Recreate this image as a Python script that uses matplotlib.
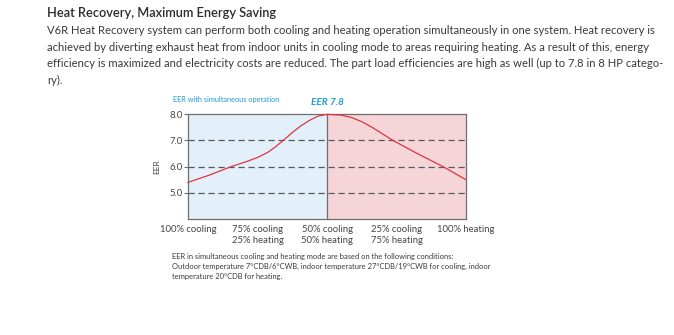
import matplotlib
matplotlib.use('Agg')
import matplotlib.pyplot as plt

plt.rcParams['font.family'] = ['Lato', 'DejaVu Sans']

# mix of cooling / heating load along the x axis
xpos = [0, 1, 2, 3, 4]
xlabels = ['100% cooling', '75% cooling\n25% heating', '50% cooling\n50% heating',
           '25% cooling\n75% heating', '100% heating']

# EER curve read along the operating range
curve_x = [0, 0.3, 0.62, 0.85, 1.0, 1.15, 1.25, 1.37, 1.5, 1.62, 1.75, 1.87, 2.0,
           2.2, 2.35, 2.5, 2.65, 2.8, 2.95, 3.3, 3.67, 4.0]
curve_y = [5.40, 5.67, 6.0, 6.2, 6.35, 6.55, 6.74, 7.0, 7.3, 7.55, 7.77, 7.93, 8.0,
           7.97, 7.88, 7.72, 7.5, 7.25, 7.0, 6.5, 6.0, 5.5]

yticks = [5.0, 6.0, 7.0, 8.0]
peak_label = 'EER 7.8'

heading = 'Heat Recovery, Maximum Energy Saving'
body = ['V6R Heat Recovery system can perform both cooling and heating operation simultaneously in one system. Heat recovery is',
        'achieved by diverting exhaust heat from indoor units in cooling mode to areas requiring heating. As a result of this, energy',
        'efficiency is maximized and electricity costs are reduced. The part load efficiencies are high as well (up to 7.8 in 8 HP catego-',
        'ry).']
notes = ['EER in simultaneous cooling and heating mode are based on the following conditions:',
         'Outdoor temperature 7\u00b0CDB/6\u00b0CWB, indoor temperature 27\u00b0CDB/19\u00b0CWB for cooling, indoor',
         'temperature 20\u00b0CDB for heating.']

W, H = 674, 335
fig = plt.figure(figsize=(W/100, H/100), dpi=100)
fig.patch.set_facecolor('white')

def fx(px): return px/W
def fy(py): return 1 - py/H

fig.text(fx(47), fy(13), heading, fontsize=9.2, color='#2b2b2b', va='center', fontweight='semibold')
for i, line in enumerate(body):
    fig.text(fx(47), fy(31 + i*16.4), line, fontsize=8.15, color='#3a3a3a', va='center')

ax = fig.add_axes([fx(188), fy(219), fx(466) - fx(188), fy(114.3) - fy(219)])
ax.set_xlim(0, 4)
ax.set_ylim(4.0, 8.0)
ax.axvspan(0, 2, color='#e3f0fa', zorder=0)
ax.axvspan(2, 4, color='#f6d5d9', zorder=0)
ax.axvline(2, color='#6e6e6e', lw=0.9, zorder=1)
for y in [5.0, 6.0, 7.0]:
    ax.axhline(y, color='#5a5a5a', lw=0.9, ls=(0, (5, 3)), zorder=1)
ax.plot(curve_x, curve_y, color='#e0343e', lw=0.9, zorder=3, clip_on=False)

ax.set_yticks(yticks)
ax.set_yticklabels(['%.1f' % v for v in yticks], fontsize=6.8, color='#444444')
ax.set_xticks(xpos)
ax.set_xticklabels(xlabels, fontsize=6.8, color='#444444', linespacing=1.35, va='top')
ax.tick_params(axis='y', length=3, width=0.8, color='#6e6e6e', pad=1)
ax.tick_params(axis='x', length=0, pad=4)
for s in ax.spines.values():
    s.set_color('#6e6e6e')
    s.set_linewidth(0.9)
ax.set_ylabel('EER', fontsize=6, color='#444444', labelpad=6)

ipk = curve_y.index(max(curve_y))
ax.annotate(peak_label, (curve_x[ipk], curve_y[ipk]), xytext=(0, 5), textcoords='offset points',
            ha='center', va='bottom', fontsize=7.2, color='#1e9bd7', style='italic', fontweight='bold')
fig.text(fx(173), fy(99), 'EER with simultaneous operation', fontsize=5.3, color='#1e9bd7', va='center')

for i, line in enumerate(notes):
    fig.text(fx(172), fy(257 + i*9.5), line, fontsize=5.4, color='#3a3a3a', va='center')

fig.savefig('out.png', dpi=100, facecolor='white')
